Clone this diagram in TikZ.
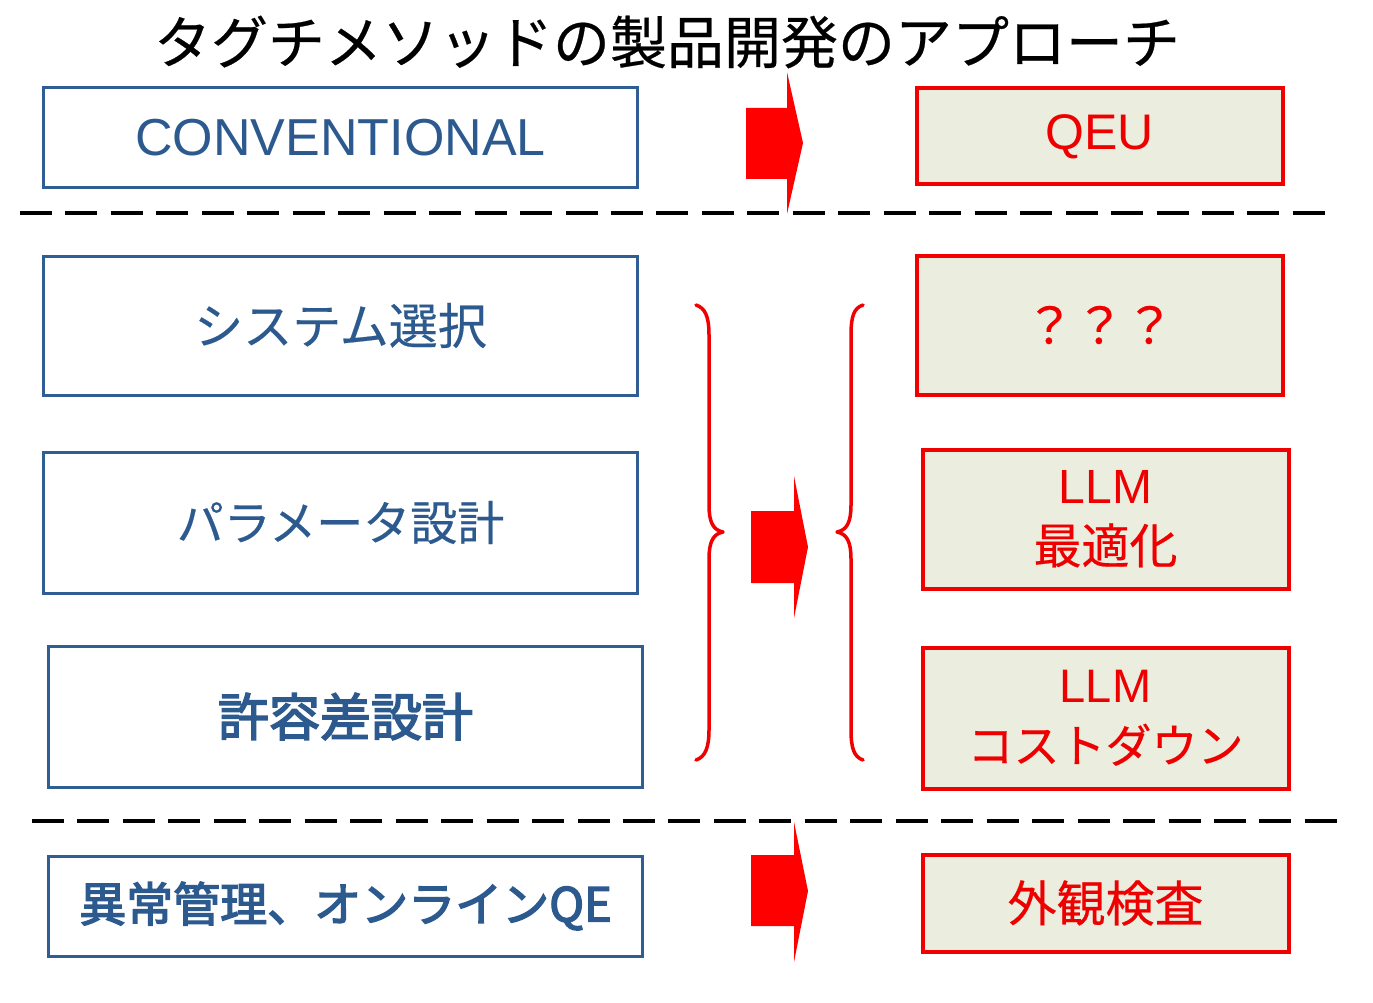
\documentclass[tikz,border=0pt]{standalone}
\usepackage{fontspec}
\setmainfont{Liberation Sans}
\newfontfamily\jp{Noto Sans CJK JP}[FakeBold=0.4]
\newfontfamily\jpb{Noto Sans CJK JP}[FakeBold=3]
\definecolor{bluebd}{HTML}{2F5E95}
\definecolor{bluetx}{HTML}{2C5A8F}
\definecolor{redbd}{HTML}{F00000}
\definecolor{redtx}{HTML}{EE0000}
\definecolor{boxfill}{HTML}{EBEDDF}
\begin{document}
\begin{tikzpicture}[x=1pt,y=-1pt,
  lbox/.style={draw=bluebd,line width=3pt,fill=white,text=bluetx,inner sep=0pt,align=center},
  rbox/.style={draw=redbd,line width=4pt,fill=boxfill,text=redtx,inner sep=0pt,align=center},
  sep/.style={line width=4pt,dash pattern=on 32pt off 13.46pt},
  bigarrow/.style={fill=red,draw=none},
  brace/.style={draw=redbd,line width=3.5pt,line cap=round,line join=round}]
\useasboundingbox (0,0) rectangle (1373,1003);
% title
\node[font=\fontsize{57}{60}\selectfont\jp] (title) at (667,42) {タグチメソッドの製品開発のアプローチ};
% left boxes
\node[lbox,minimum width=594pt,minimum height=100pt,font=\fontsize{52}{56}\selectfont] (conv) at (340.5,138) {CONVENTIONAL};
\node[lbox,minimum width=594pt,minimum height=139pt,font=\fontsize{49}{56}\selectfont\jp] (sys) at (340.5,325.5) {システム選択};
\node[lbox,minimum width=594pt,minimum height=141pt,font=\fontsize{47}{56}\selectfont\jp] (par) at (340.5,522.5) {パラメータ設計};
\node[lbox,minimum width=594pt,minimum height=141pt,font=\fontsize{51}{56}\selectfont\jpb] (tol) at (345.5,716.5) {許容差設計};
\node[lbox,minimum width=594pt,minimum height=100pt,font=\fontsize{47}{56}\selectfont\jpb] (abn) at (345.5,906) {異常管理、オンラインQE};
% right boxes
\node[rbox,minimum width=366pt,minimum height=96pt,font=\fontsize{50}{56}\selectfont] (qeu) at (1099.5,136.5) {QEU};
\node[rbox,minimum width=366pt,minimum height=139pt,font=\fontsize{50}{56}\selectfont\jp] (qqq) at (1099.5,325) {？？？};
\node[rbox,minimum width=366pt,minimum height=139pt,font=\fontsize{48}{60}\selectfont] (opt) at (1105.5,519) {LLM\\{\jp 最適化}};
\node[rbox,minimum width=366pt,minimum height=141pt,font=\fontsize{47}{60}\selectfont] (cost) at (1105.5,718) {LLM\\{\fontsize{46}{60}\selectfont\jp コストダウン}};
\node[rbox,minimum width=366pt,minimum height=97pt,font=\fontsize{49}{56}\selectfont\jp] (vis) at (1105.5,903) {外観検査};
% dashed separators
\coordinate (s1a) at (20,213); \coordinate (s1b) at (1325,213);
\coordinate (s2a) at (32,821); \coordinate (s2b) at (1337,821);
\draw[sep] (s1a) -- (s1b);
\draw[sep] (s2a) -- (s2b);
% arrows
\fill[bigarrow] (746,108) -- (787,108) -- (787,72) -- (803,143) -- (787,214) -- (787,179) -- (746,179) -- cycle;
\fill[bigarrow] (751,511) -- (794,511) -- (794,476) -- (808,547) -- (794,618) -- (794,583) -- (751,583) -- cycle;
\fill[bigarrow] (751,855) -- (794,855) -- (794,822) -- (808,891) -- (794,962) -- (794,926) -- (751,926) -- cycle;
% braces
\draw[brace] (696,305) .. controls (705,308) and (709,316) .. (709,335) -- (709,505)
  .. controls (709,522) and (713,530) .. (723,532)
  .. controls (713,534) and (709,542) .. (709,559) -- (709,730)
  .. controls (709,748) and (705,757) .. (696,760);
\draw[brace] (863,305) .. controls (854,308) and (851,316) .. (851,335) -- (851,505)
  .. controls (851,522) and (847,530) .. (837,532)
  .. controls (847,534) and (851,542) .. (851,559) -- (851,730)
  .. controls (851,748) and (854,757) .. (863,760);
\end{tikzpicture}
\end{document}
